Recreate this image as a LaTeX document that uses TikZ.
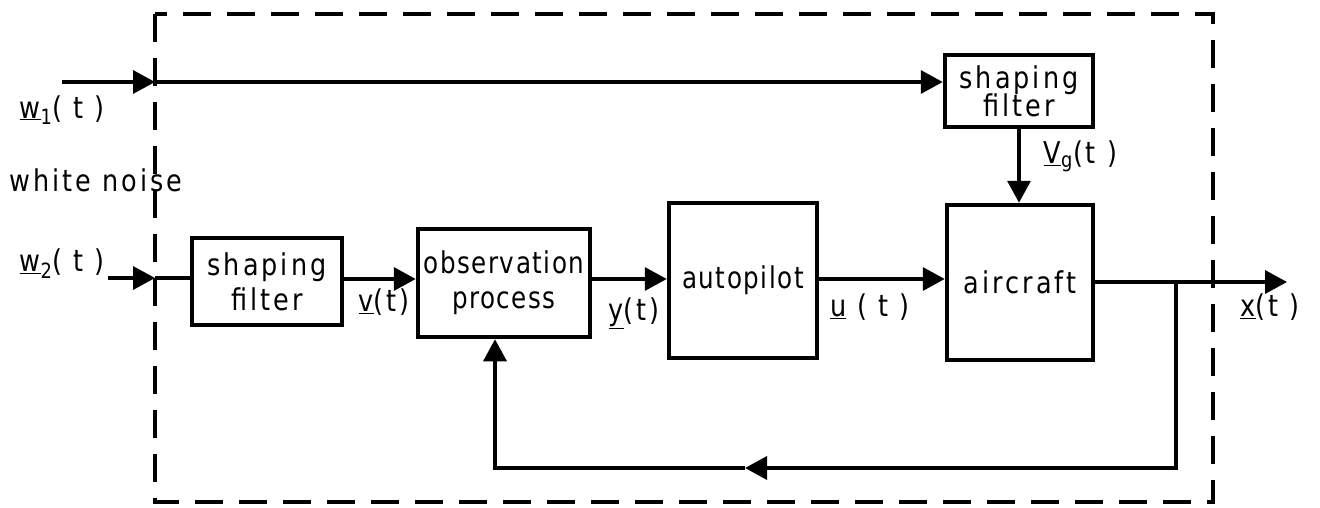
\documentclass[tikz,border=0pt]{standalone}
\usepackage{fontspec}
\setmainfont{DejaVu Sans}[LetterSpace=5,FakeStretch=0.82]
\newfontfamily\widefont{DejaVu Sans}[LetterSpace=10,FakeStretch=0.85]
\usetikzlibrary{arrows.meta}
\newcommand\diafs{\fontsize{30}{35}\selectfont}
\begin{document}
\begin{tikzpicture}[x=1pt,y=-1pt,line width=3.5pt,
  blk/.style={draw,line width=4.5pt,inner sep=0pt,align=center,font=\diafs},
  wblk/.style={blk,font=\diafs\widefont},
  lbl/.style={font=\diafs\widefont,inner sep=0pt},
  arr/.style={-{Triangle[length=22pt,width=23pt]}},
  frame/.style={line width=3.5pt,dash pattern=on 28pt off 16pt}]
\useasboundingbox (0,0) rectangle (1320,508);
% frame
\draw[frame] (155,14) rectangle (1213,502);
% blocks
\node[wblk,minimum width=150pt,minimum height=87pt] (sf1) at (267,281.5) {shaping\\filter};
\node[blk,minimum width=172pt,minimum height=108pt] (op) at (504,283) {observation\\process};
\node[blk,minimum width=148pt,minimum height=155pt] (ap) at (743,280.5) {autopilot};
\node[wblk,minimum width=146pt,minimum height=155pt] (ac) at (1020,282.5) {aircraft};
\node[wblk,minimum width=148pt,minimum height=72pt] (sf2) at (1019,91) {shaping\\[-7pt]filter};
% coordinates
\coordinate (w1s) at (62,82);
\coordinate (w1b) at (155,82);
\coordinate (w2s) at (108,278);
\coordinate (w2b) at (155,278);
\coordinate (r) at (0,279);
\coordinate (xo) at (1287,282);
\coordinate (J) at (1176,282);
\coordinate (fbR) at (1176,468);
\coordinate (fbM) at (745,468);
\coordinate (fbL) at (495,468);
% connectors
\draw[arr] (w1s) -- (w1b);
\draw[arr] (w1b) -- (w1b -| sf2.west);
\draw[arr] (w2s) -- (w2b);
\draw (w2b) -- (w2b -| sf1.west);
\draw[arr] (sf1.east |- r) -- (op.west |- r);
\draw[arr] (op.east |- r) -- (ap.west |- r);
\draw[arr] (ap.east |- r) -- (ac.west |- r);
\draw[arr] (ac.east |- xo) -- (xo);
\draw[arr] (sf2.south) -- (sf2.south |- ac.north);
\draw[arr] (J) -- (fbR) -- (fbM);
\draw[arr] (fbM) -- (fbL) -- (fbL |- op.south);
% labels
\node[lbl,anchor=west] (lw1) at (18,110) {\underline{w}\textsubscript{1}( t )};
\node[lbl,anchor=west] (lwn) at (8,180) {white noise};
\node[lbl,anchor=west] (lw2) at (18,264) {\underline{w}\textsubscript{2}( t )};
\node[lbl] (lv) at (384,302) {\underline{v}(t)};
\node[lbl] (ly) at (634,313) {\underline{y}(t)};
\node[lbl] (lu) at (870,307) {\underline{u} ( t )};
\node[lbl,anchor=west] (lvg) at (1042,156) {\underline{V}\textsubscript{g}(t )};
\node[lbl] (lx) at (1270,307) {\underline{x}(t )};
\end{tikzpicture}
\end{document}
